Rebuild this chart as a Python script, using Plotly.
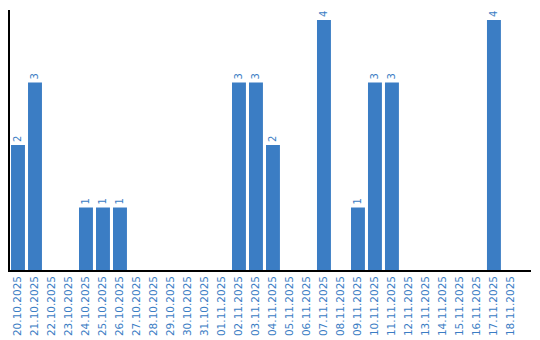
import plotly.graph_objects as go

dates = ["20.10.2025","21.10.2025","22.10.2025","23.10.2025","24.10.2025","25.10.2025",
         "26.10.2025","27.10.2025","28.10.2025","29.10.2025","30.10.2025","31.10.2025",
         "01.11.2025","02.11.2025","03.11.2025","04.11.2025","05.11.2025","06.11.2025",
         "07.11.2025","08.11.2025","09.11.2025","10.11.2025","11.11.2025","12.11.2025",
         "13.11.2025","14.11.2025","15.11.2025","16.11.2025","17.11.2025","18.11.2025"]
counts = [2,3,0,0,1,1,1,0,0,0,0,0,0,3,3,2,0,0,4,0,1,3,3,0,0,0,0,0,4,0]

blue = "#3b7dc4"
labels = [str(v) if v > 0 else "" for v in counts]

fig = go.Figure(go.Bar(
    x=dates, y=counts, marker_color=blue, marker_line_width=0,
    text=labels, textposition="outside", textangle=-90,
    textfont=dict(family="DejaVu Sans", size=10, color=blue),
    cliponaxis=False,
))
fig.update_layout(
    width=540, height=340,
    margin=dict(l=10, r=9, t=10, b=70),
    paper_bgcolor="white", plot_bgcolor="white",
    bargap=0.18, showlegend=False,
    font=dict(family="DejaVu Sans", size=10, color=blue),
)
fig.update_xaxes(type="category", tickangle=-90, showline=True, linecolor="black",
                 linewidth=1.5, ticks="", showgrid=False, range=[-0.47, 30.18],
                 automargin=False,
                 tickfont=dict(family="DejaVu Sans", size=10.5, color=blue))
fig.update_yaxes(range=[0, 4.16], showline=True, linecolor="black", linewidth=1.5,
                 showticklabels=False, ticks="", showgrid=False, zeroline=False)
fig.write_html("out.html")
